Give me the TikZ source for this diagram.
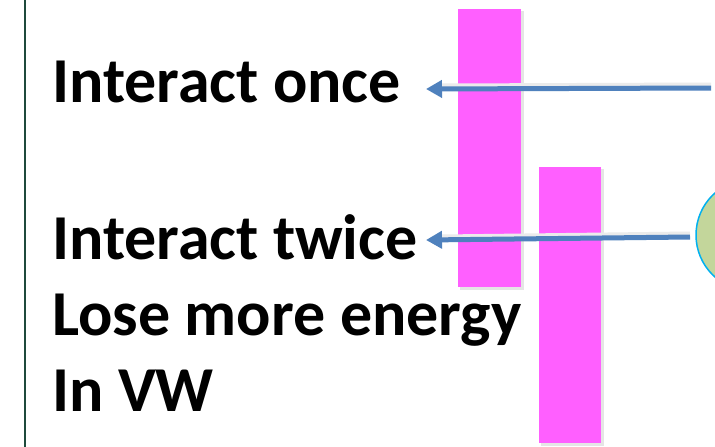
\documentclass[tikz,border=0pt]{standalone}
\usepackage{fontspec}
\setmainfont{Carlito}
\usetikzlibrary{arrows.meta}
\definecolor{barpink}{HTML}{FF5FFF}
\definecolor{arrowblue}{HTML}{4F81BD}
\definecolor{framegreen}{HTML}{1F4A3C}
\definecolor{circfill}{HTML}{C3D69B}
\definecolor{circline}{HTML}{00B0F0}
\tikzset{
  bar/.style={fill=barpink, draw=none, inner sep=0pt, anchor=north west},
  lbl/.style={font=\fontsize{64}{64}\selectfont\bfseries, anchor=base west, inner sep=0pt},
  arr/.style={draw=arrowblue, line width=5pt, -{Triangle[length=16pt,width=17pt]}},
  shad/.style={draw=black!8, line width=5pt}
}
\begin{document}
\begin{tikzpicture}[x=1pt,y=-1pt]
\useasboundingbox (0,0) rectangle (715,447);
\fill[white] (0,0) rectangle (715,447);
% frame line
\draw[framegreen, line width=1.5pt] (25,-2) -- (25,449);
% bar shadows
\fill[black!10] (460,11) rectangle (524,290);
\fill[black!10] (541,169) rectangle (604,446);
% bars
\node[bar, minimum width=63pt, minimum height=278pt] (b1) at (458,9) {};
\node[bar, minimum width=62pt, minimum height=276pt] (b2) at (539,167) {};
% circle
\fill[black!10] (754,238) circle (56);
\node[circle, fill=circfill, draw=circline, line width=1.5pt, minimum size=112pt, inner sep=0pt] (c) at (752,235) {};
% labels
\node[lbl] (t1) at (52,102) {Interact once};
\node[lbl] (t2) at (52,259) {Interact twice};
\node[lbl] (t3) at (52,335) {Lose more energy};
\node[lbl] (t4) at (52,411) {In VW};
% arrows
\coordinate (s1) at (711,88);
\coordinate (e1) at (426,89);
\coordinate (s2) at (690,237);
\coordinate (e2) at (426,240);
\draw[shad] ([yshift=3pt]s1) -- ([xshift=16pt,yshift=3pt]e1);
\draw[shad] ([yshift=3pt]s2) -- ([xshift=16pt,yshift=3pt]e2);
\draw[arr] (s1) -- (e1);
\draw[arr] (s2) -- (e2);
\end{tikzpicture}
\end{document}
